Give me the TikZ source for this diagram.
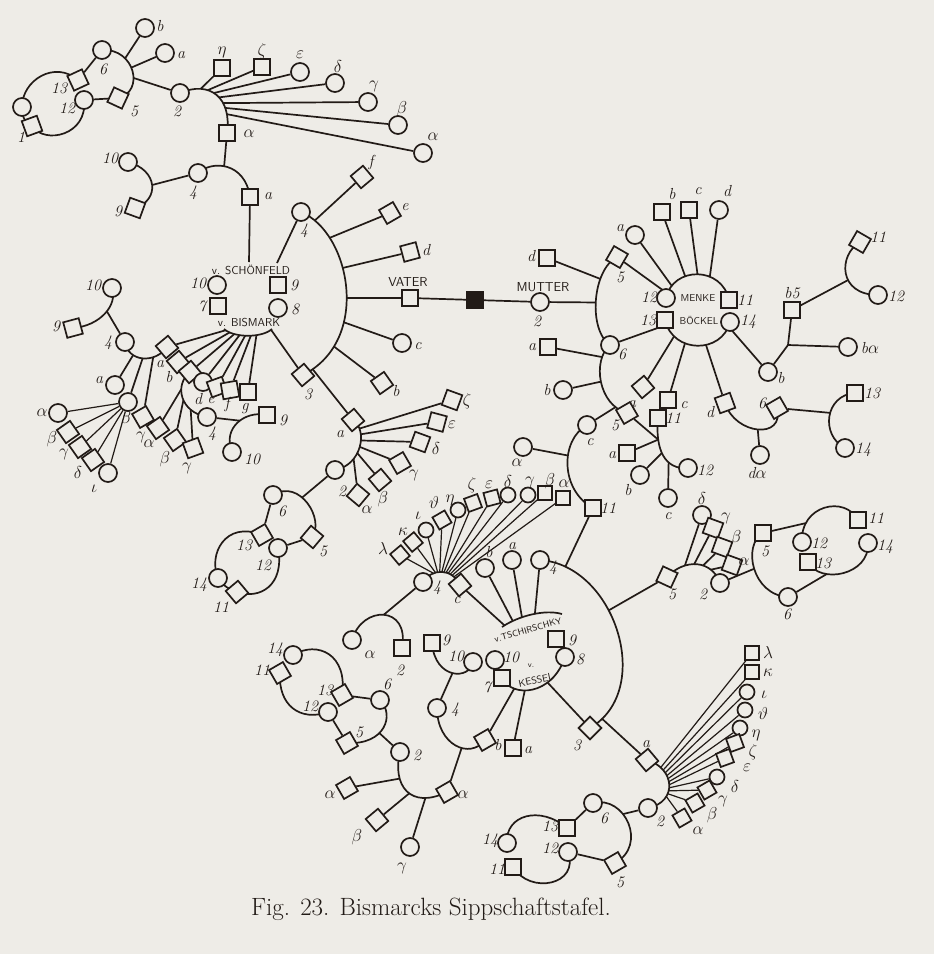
\documentclass[tikz,border=0pt]{standalone}
\usepackage{fontspec}
\definecolor{paper}{RGB}{238,236,231}
\definecolor{ink}{RGB}{34,27,23}
\pgfdeclarelayer{back}
\pgfdeclarelayer{arcs}
\pgfsetlayers{back,arcs,main}
\newcommand\lbf{\itshape\fontsize{16}{16}\selectfont}
\newcommand\nmf{\sffamily\fontsize{11.5}{12}\selectfont}
\tikzset{
  ln/.style={draw=ink,line width=1.7pt},
  fl/.style={draw=ink,line width=1.2pt},
  ci/.style={circle,draw=ink,line width=1.7pt,fill=paper,minimum size=18pt,inner sep=0pt},
  sq/.style={rectangle,draw=ink,line width=1.7pt,fill=paper,minimum size=16pt,inner sep=0pt},
  sci/.style={ci,minimum size=15pt},
  ssq/.style={sq,minimum size=14pt},
  bsq/.style={sq,fill=ink},
  lb/.style={font=\lbf,text=ink,inner sep=0pt},
  nm/.style={font=\nmf,text=ink,inner sep=0pt},
}
\begin{document}
\begin{tikzpicture}[x=1pt,y=-1pt]
\begin{pgfonlayer}{back}
\fill[paper] (0,0) rectangle (934,954);
\end{pgfonlayer}
\useasboundingbox (0,0) rectangle (934,954);

% ================= G1 top left =================
\node[ci] (g1c6) at (102,50) {};        \node[lb] (g1c6l) at (103,69) {6};
\node[ci] (g1cb) at (145,28) {};        \node[lb] (g1cbl) at (160,26) {b};
\node[ci] (g1ca) at (165,53) {};        \node[lb] (g1cal) at (181,55) {a};
\node[sq,rotate=-25] (g1s5) at (118,98) {};  \node[lb] (g1s5l) at (134,111) {5};
\node[sq,rotate=25] (g1s13) at (78,80) {};   \node[lb] (g1s13l) at (59,88) {13};
\node[ci] (g1c12) at (84,100) {};       \node[lb] (g1c12l) at (67,108) {12};
\node[ci] (g1c14) at (22,107) {};
\node[sq,rotate=20] (g1s11) at (32,126) {};  \node[lb] (g1s11l) at (21,137) {1};
\node[ci] (g1c2) at (180,93) {};        \node[lb] (g1c2l) at (177,111) {2};
\node[sq] (g1sh) at (222,68) {};        \node[lb] (g1shl) at (222,52) {$\eta$};
\node[sq] (g1sz) at (262,67) {};        \node[lb] (g1szl) at (262,51) {$\zeta$};
\node[ci] (g1ce) at (300,72) {};        \node[lb] (g1cel) at (300,55) {$\varepsilon$};
\node[ci] (g1cd) at (335,83) {};        \node[lb] (g1cdl) at (338,66) {$\delta$};
\node[ci] (g1cg) at (368,102) {};       \node[lb] (g1cgl) at (374,86) {$\gamma$};
\node[ci] (g1cbt) at (398,125) {};      \node[lb] (g1cbtl) at (402,109) {$\beta$};
\node[ci] (g1cal2) at (423,153) {};     \node[lb] (g1cal2l) at (433,137) {$\alpha$};
\node[sq] (g1sal) at (227,133) {};      \node[lb] (g1sall) at (249,134) {$\alpha$};
\node[ci] (g1c4) at (198,173) {};       \node[lb] (g1c4l) at (193,193) {4};
\node[sq] (g1sa) at (250,197) {};       \node[lb] (g1sal2) at (268,196) {a};
\node[ci] (g1c10) at (128,162) {};      \node[lb] (g1c10l) at (110,158) {10};
\node[sq,rotate=-20] (g1s9) at (135,208) {}; \node[lb] (g1s9l) at (118,211) {9};

% ================= G2 Schoenfeld / Bismark =================
\node[nm] (sft1) at (251,270) {v. SCHÖNFELD};
\node[ci] (sfc10) at (217,285) {};      \node[lb] (sfc10l) at (198,283) {10};
\node[sq] (sfs9) at (278,285) {};       \node[lb] (sfs9l) at (294,285) {9};
\node[sq] (sfs7) at (218,306) {};       \node[lb] (sfs7l) at (202,306) {7};
\node[ci] (sfc8) at (278,308) {};       \node[lb] (sfc8l) at (295,309) {8};
\node[nm] (sft2) at (249,323) {v. BISMARK};
\coordinate (g2top) at (249,262);
\coordinate (g2tr) at (277,263);

\node[sq,rotate=40] (g2sa) at (167,347) {};  \node[lb] (g2sal) at (160,364) {a};
\node[sq,rotate=40] (g2sb) at (178,362) {};  \node[lb] (g2sbl) at (169,377) {b};
\node[sq,rotate=40] (g2sc) at (190,372) {};
\node[ci] (g2cd) at (203,382) {};            \node[lb] (g2cdl) at (198,399) {d};
\node[sq,rotate=20] (g2se) at (217,387) {};  \node[lb] (g2sel) at (211,400) {e};
\node[sq,rotate=10] (g2sf) at (230,390) {};  \node[lb] (g2sfl) at (227,404) {f};
\node[sq] (g2sg) at (248,392) {};            \node[lb] (g2sgl) at (245,409) {g};

% left family
\node[ci] (lfc10) at (112,288) {};      \node[lb] (lfc10l) at (93,285) {10};
\node[sq,rotate=15] (lfs9) at (73,328) {}; \node[lb] (lfs9l) at (56,326) {9};
\node[ci] (lfc4) at (125,342) {};       \node[lb] (lfc4l) at (108,343) {4};
\node[ci] (lfca) at (115,385) {};       \node[lb] (lfcal) at (99,380) {a};
\node[ci] (lfcb) at (128,402) {};       \node[lb] (lfcbl) at (126,419) {$\beta$};
\node[sq,rotate=30] (lfsg) at (143,417) {}; \node[lb] (lfsgl) at (141,437) {$\gamma$};
\node[ci] (lfa) at (58,413) {};         \node[lb] (lfal) at (42,413) {$\alpha$};
\node[sq,rotate=35] (lfb) at (68,432) {};  \node[lb] (lfbl) at (52,439) {$\beta$};
\node[sq,rotate=35] (lfg) at (80,447) {};  \node[lb] (lfgl) at (64,454) {$\gamma$};
\node[sq,rotate=35] (lfd) at (93,460) {};  \node[lb] (lfdl) at (78,472) {$\delta$};
\node[ci] (lfi) at (108,473) {};        \node[lb] (lfil) at (94,489) {$\iota$};

% middle family (c of Bismark)
\node[ci] (mc4) at (207,417) {};        \node[lb] (mc4l) at (212,434) {4};
\node[sq,rotate=35] (msa) at (158,428) {}; \node[lb] (msal) at (149,444) {$\alpha$};
\node[sq,rotate=35] (msb) at (175,440) {}; \node[lb] (msbl) at (165,459) {$\beta$};
\node[sq,rotate=20] (msg) at (193,448) {}; \node[lb] (msgl) at (187,468) {$\gamma$};
\node[sq] (ms9) at (267,415) {};        \node[lb] (ms9l) at (283,420) {9};
\node[ci] (mc10) at (232,452) {};       \node[lb] (mc10l) at (252,459) {10};

% ================= G3 big arc (Vater side) =================
\node[ci] (g3c4) at (301,212) {};       \node[lb] (g3c4l) at (304,231) {4};
\node[sq,rotate=40] (g3s3) at (303,375) {}; \node[lb] (g3s3l) at (308,394) {3};
\node[sq,rotate=40] (g3sf) at (362,177) {}; \node[lb] (g3sfl) at (371,162) {f};
\node[sq,rotate=30] (g3se) at (390,213) {}; \node[lb] (g3sel) at (405,207) {e};
\node[sq,rotate=15] (g3sd) at (410,252) {}; \node[lb] (g3sdl) at (426,250) {d};
\node[sq] (g3sv) at (410,298) {};       \node[nm,font=\sffamily\fontsize{13}{13}\selectfont] (g3svl) at (408,282) {VATER};
\node[bsq] (g3bk) at (475,300) {};
\node[ci] (g3mu) at (540,302) {};       \node[nm,font=\sffamily\fontsize{13}{13}\selectfont] (g3mul) at (543,287) {MUTTER};
\node[lb] (g3mu2) at (537,321) {2};
\node[ci] (g3cc) at (402,343) {};       \node[lb] (g3ccl) at (418,346) {c};
\node[sq,rotate=35] (g3sb) at (382,383) {}; \node[lb] (g3sbl) at (396,391) {b};
\node[sq,rotate=40] (g3sa) at (353,420) {}; \node[lb] (g3sal) at (340,434) {a};

% ================= G4 =================
\node[ci] (g4c2) at (335,470) {};       \node[lb] (g4c2l) at (342,491) {2};
\node[sq,rotate=-20] (g4sz) at (452,400) {}; \node[lb] (g4szl) at (467,401) {$\zeta$};
\node[sq,rotate=-15] (g4se) at (437,422) {}; \node[lb] (g4sel) at (452,425) {$\varepsilon$};
\node[sq,rotate=-20] (g4sd) at (420,442) {}; \node[lb] (g4sdl) at (436,448) {$\delta$};
\node[sq,rotate=30] (g4sg) at (400,463) {};  \node[lb] (g4sgl) at (414,475) {$\gamma$};
\node[sq,rotate=40] (g4sb) at (380,480) {};  \node[lb] (g4sbl) at (383,499) {$\beta$};
\node[sq,rotate=50] (g4sa) at (358,495) {};  \node[lb] (g4sal) at (367,510) {$\alpha$};
\node[ci] (g4c6) at (273,495) {};       \node[lb] (g4c6l) at (282,511) {6};
\node[sq,rotate=-40] (g4s5) at (312,537) {}; \node[lb] (g4s5l) at (323,551) {5};
\node[sq,rotate=30] (g4s13) at (262,535) {}; \node[lb] (g4s13l) at (244,545) {13};
\node[ci] (g4c12) at (278,548) {};      \node[lb] (g4c12l) at (263,565) {12};
\node[ci] (g4c14) at (218,578) {};      \node[lb] (g4c14l) at (199,585) {14};
\node[sq,rotate=40] (g4s11) at (237,592) {}; \node[lb] (g4s11l) at (221,607) {11};

% ================= G5 fan of 4 =================
\node[ci] (g5c4) at (423,582) {};       \node[lb] (g5c4l) at (437,588) {4};
\node[sq,rotate=40] (g5sc) at (460,585) {}; \node[lb] (g5scl) at (457,600) {c};
\node[ssq,rotate=40] (g5sl) at (400,555) {}; \node[lb] (g5sll) at (383,548) {$\lambda$};
\node[ssq,rotate=40] (g5sk) at (413,542) {}; \node[lb] (g5skl) at (403,532) {$\kappa$};
\node[sci] (g5ci) at (426,530) {};      \node[lb] (g5cil) at (418,516) {$\iota$};
\node[ssq,rotate=30] (g5st) at (442,520) {}; \node[lb] (g5stl) at (434,502) {$\vartheta$};
\node[sci] (g5ch) at (458,510) {};      \node[lb] (g5chl) at (450,500) {$\eta$};
\node[ssq,rotate=20] (g5sz) at (473,503) {}; \node[lb] (g5szl) at (472,485) {$\zeta$};
\node[ssq,rotate=15] (g5se) at (492,498) {}; \node[lb] (g5sel) at (489,485) {$\varepsilon$};
\node[sci] (g5cd) at (508,495) {};      \node[lb] (g5cdl) at (508,481) {$\delta$};
\node[sci] (g5cg) at (528,495) {};      \node[lb] (g5cgl) at (530,482) {$\gamma$};
\node[ssq] (g5sb) at (545,493) {};      \node[lb] (g5sbl) at (550,481) {$\beta$};
\node[ssq] (g5sa) at (563,498) {};      \node[lb] (g5sal) at (564,484) {$\alpha$};
\node[ci] (g5ca) at (352,640) {};       \node[lb] (g5cal) at (370,655) {$\alpha$};
\node[sq] (g5s2) at (402,648) {};       \node[lb] (g5s2l) at (400,670) {2};

% ================= G6 Tschirschky / Kessel =================
\node[nm,rotate=16,font=\sffamily\fontsize{9}{9}\selectfont] (g6t1) at (528,630) {v.TSCHIRSCHKY};
\node[sq] (g6s9) at (556,639) {};       \node[lb] (g6s9l) at (572,640) {9};
\node[ci] (g6c10) at (495,660) {};      \node[lb] (g6c10l) at (511,657) {10};
\node[ci] (g6c8) at (565,657) {};       \node[lb] (g6c8l) at (580,659) {8};
\node[sq] (g6s7) at (502,678) {};       \node[lb] (g6s7l) at (487,687) {7};
\node[nm,font=\sffamily\fontsize{8}{8}\selectfont] (g6tv) at (531,666) {v.};
\node[nm,rotate=12,font=\sffamily\fontsize{10}{10}\selectfont] (g6t2) at (536,680) {KESSEL};
\node[sq,rotate=30] (g6sb) at (485,740) {}; \node[lb] (g6sbl) at (498,745) {b};
\node[sq] (g6sa) at (513,748) {};       \node[lb] (g6sal) at (528,750) {a};
\node[sq,rotate=45] (g6s3) at (590,728) {}; \node[lb] (g6s3l) at (577,745) {3};
\node[ci] (g6c4) at (540,560) {};       \node[lb] (g6c4l) at (553,568) {4};
\node[ci] (g6cb) at (485,568) {};       \node[lb] (g6cbl) at (489,552) {b};
\node[ci] (g6ca) at (512,560) {};       \node[lb] (g6cal) at (512,546) {a};
\node[sq] (g6s11) at (593,508) {};      \node[lb] (g6s11l) at (608,508) {11};

% ================= G7 lower left =================
\node[sq] (g7s9) at (432,643) {};       \node[lb] (g7s9l) at (446,640) {9};
\node[ci] (g7c10) at (473,662) {};      \node[lb] (g7c10l) at (456,656) {10};
\node[ci] (g7c4) at (437,708) {};       \node[lb] (g7c4l) at (455,710) {4};
\node[ci] (g7c2) at (400,752) {};       \node[lb] (g7c2l) at (417,755) {2};
\node[sq,rotate=30] (g7sal) at (447,792) {}; \node[lb] (g7sall) at (463,795) {$\alpha$};
\node[sq,rotate=30] (g7sa2) at (347,788) {}; \node[lb] (g7sa2l) at (330,795) {$\alpha$};
\node[sq,rotate=40] (g7sb) at (377,820) {}; \node[lb] (g7sbl) at (357,837) {$\beta$};
\node[ci] (g7cg) at (410,847) {};       \node[lb] (g7cgl) at (402,868) {$\gamma$};
\node[ci] (g7c6) at (380,700) {};       \node[lb] (g7c6l) at (387,684) {6};
\node[sq,rotate=30] (g7s5) at (347,743) {}; \node[lb] (g7s5l) at (359,732) {5};
\node[ci] (g7c14) at (293,655) {};      \node[lb] (g7c14l) at (275,650) {14};
\node[sq,rotate=30] (g7s11) at (280,673) {}; \node[lb] (g7s11l) at (262,670) {11};
\node[sq,rotate=30] (g7s13) at (342,695) {}; \node[lb] (g7s13l) at (325,690) {13};
\node[ci] (g7c12) at (328,712) {};      \node[lb] (g7c12l) at (310,706) {12};

% ================= G8 c-arc =================
\node[ci] (g8cc) at (587,425) {};       \node[lb] (g8ccl) at (590,442) {c};
\node[ci] (g8ca) at (523,447) {};       \node[lb] (g8cal) at (517,463) {$\alpha$};

% ================= G9 Menke / Boeckel =================
\node[nm,font=\sffamily\fontsize{10}{10}\selectfont] (g9t1) at (698,298) {MENKE};
\node[nm,font=\sffamily\fontsize{10}{10}\selectfont] (g9t2) at (699,321) {BÖCKEL};
\node[ci] (g9c12) at (666,298) {};      \node[lb] (g9c12l) at (649,297) {12};
\node[sq] (g9s11) at (729,300) {};      \node[lb] (g9s11l) at (745,300) {11};
\node[sq] (g9s13) at (665,320) {};      \node[lb] (g9s13l) at (648,320) {13};
\node[ci] (g9c14) at (730,322) {};      \node[lb] (g9c14l) at (748,322) {14};
\node[ci] (g9ca) at (635,235) {};       \node[lb] (g9cal) at (620,228) {a};
\node[sq] (g9sb) at (662,212) {};       \node[lb] (g9sbl) at (672,194) {b};
\node[sq] (g9sc) at (689,210) {};       \node[lb] (g9scl) at (698,191) {c};
\node[ci] (g9cd) at (719,210) {};       \node[lb] (g9cdl) at (727,191) {d};
\node[sq,rotate=-30] (g9s5) at (617,257) {}; \node[lb] (g9s5l) at (620,277) {5};
\node[ci] (g9c6) at (610,345) {};       \node[lb] (g9c6l) at (622,354) {6};
\node[sq,rotate=40] (g9sa) at (643,387) {}; \node[lb] (g9sal) at (632,404) {a};
\node[sq] (g9sc2) at (668,400) {};      \node[lb] (g9sc2l) at (684,405) {c};
\node[sq,rotate=20] (g9sd) at (725,403) {}; \node[lb] (g9sdl) at (710,412) {d};
\node[ci] (g9cb) at (768,372) {};       \node[lb] (g9cbl) at (781,378) {b};
\node[sq] (g9sd2) at (547,258) {};      \node[lb] (g9sd2l) at (531,256) {d};
\node[sq] (g9sa2) at (548,347) {};      \node[lb] (g9sa2l) at (532,347) {a};
\node[ci] (g9cb2) at (563,390) {};      \node[lb] (g9cb2l) at (547,390) {b};
\node[sq,rotate=30] (g9s5b) at (627,413) {}; \node[lb] (g9s5bl) at (615,425) {5};

% small family below Menke
\node[sq] (g10s11) at (658,418) {};     \node[lb] (g10s11l) at (673,418) {11};
\node[ci] (g10c12) at (688,468) {};     \node[lb] (g10c12l) at (705,470) {12};
\node[sq] (g10sa) at (627,453) {};      \node[lb] (g10sal) at (612,455) {a};
\node[ci] (g10cb) at (640,475) {};      \node[lb] (g10cbl) at (628,490) {b};
\node[ci] (g10cc) at (668,498) {};      \node[lb] (g10ccl) at (668,516) {c};

% ================= G11 right =================
\node[sq] (g11s5) at (792,310) {};      \node[lb] (g11s5l) at (792,293) {b5};
\coordinate (g11j) at (788,345);
\node[ci] (g11cba) at (848,347) {};     \node[lb] (g11cbal) at (870,348) {b$\alpha$};
\node[sq,rotate=-30] (g11s11) at (860,242) {}; \node[lb] (g11s11l) at (878,237) {11};
\node[ci] (g11c12) at (878,295) {};     \node[lb] (g11c12l) at (896,296) {12};

\node[sq,rotate=30] (g12s6) at (777,408) {}; \node[lb] (g12s6l) at (762,403) {6};
\node[ci] (g12cda) at (760,455) {};     \node[lb] (g12cdal) at (757,473) {d$\alpha$};
\node[sq] (g12s13) at (855,393) {};     \node[lb] (g12s13l) at (872,393) {13};
\node[ci] (g12c14) at (845,448) {};     \node[lb] (g12c14l) at (863,450) {14};

% ================= G13/G14 right middle =================
\node[sq,rotate=-25] (g13s5) at (667,577) {}; \node[lb] (g13s5l) at (672,594) {5};
\node[ci] (g13c2) at (720,583) {};      \node[lb] (g13c2l) at (703,594) {2};
\node[ci] (g13cd) at (702,515) {};      \node[lb] (g13cdl) at (702,498) {$\delta$};
\node[sq,rotate=-20] (g13sg) at (713,528) {}; \node[lb] (g13sgl) at (726,518) {$\gamma$};
\node[sq,rotate=-20] (g13sb) at (722,547) {}; \node[lb] (g13sbl) at (736,538) {$\beta$};
\node[sq,rotate=-20] (g13sa) at (732,565) {}; \node[lb] (g13sal) at (744,562) {$\alpha$};
\node[sq] (g14s5) at (763,533) {};      \node[lb] (g14s5l) at (765,551) {5};
\node[ci] (g14c6) at (788,597) {};      \node[lb] (g14c6l) at (787,614) {6};
\node[ci] (g14c12) at (802,542) {};     \node[lb] (g14c12l) at (819,543) {12};
\node[sq] (g14s11) at (858,520) {};     \node[lb] (g14s11l) at (876,518) {11};
\node[ci] (g14c14) at (868,543) {};     \node[lb] (g14c14l) at (885,547) {14};
\node[sq] (g14s13) at (808,562) {};     \node[lb] (g14s13l) at (823,563) {13};

% ================= G15 lower right =================
\node[sq,rotate=40] (g15sa) at (647,760) {}; \node[lb] (g15sal) at (646,744) {a};
\node[ci] (g15c2) at (648,808) {};      \node[lb] (g15c2l) at (660,821) {2};
\node[ssq] (g15sl) at (752,653) {};     \node[lb] (g15sll) at (768,652) {$\lambda$};
\node[ssq] (g15sk) at (752,672) {};     \node[lb] (g15skl) at (768,673) {$\kappa$};
\node[sci] (g15ci) at (747,692) {};     \node[lb] (g15cil) at (764,695) {$\iota$};
\node[sci] (g15ct) at (745,710) {};     \node[lb] (g15ctl) at (763,713) {$\vartheta$};
\node[sci] (g15ch) at (740,728) {};     \node[lb] (g15chl) at (756,735) {$\eta$};
\node[ssq,rotate=20] (g15sz) at (735,743) {}; \node[lb] (g15szl) at (753,752) {$\zeta$};
\node[ssq,rotate=20] (g15se) at (725,758) {}; \node[lb] (g15sel) at (747,768) {$\varepsilon$};
\node[sci] (g15cd) at (717,777) {};     \node[lb] (g15cdl) at (735,786) {$\delta$};
\node[ssq,rotate=30] (g15sg) at (707,790) {}; \node[lb] (g15sgl) at (723,801) {$\gamma$};
\node[ssq,rotate=30] (g15sb) at (695,803) {}; \node[lb] (g15sbl) at (712,815) {$\beta$};
\node[ssq,rotate=30] (g15sa2) at (682,818) {}; \node[lb] (g15sa2l) at (698,831) {$\alpha$};
\node[ci] (g15c6) at (593,803) {};      \node[lb] (g15c6l) at (604,818) {6};
\node[sq,rotate=30] (g15s5) at (615,863) {}; \node[lb] (g15s5l) at (620,882) {5};
\node[sq] (g15s13) at (567,828) {};     \node[lb] (g15s13l) at (550,826) {13};
\node[ci] (g15c12) at (568,852) {};     \node[lb] (g15c12l) at (550,848) {12};
\node[ci] (g15c14) at (507,843) {};     \node[lb] (g15c14l) at (490,841) {14};
\node[sq] (g15s11) at (513,867) {};     \node[lb] (g15s11l) at (497,869) {11};

\node[text=ink,font=\fontsize{25}{25}\selectfont,inner sep=0pt] (cap) at (431,909) {Fig. 23. Bismarcks Sippschaftstafel.};

% ================= lines and arcs =================
\begin{pgfonlayer}{arcs}
% G1
\draw[ln] (g1c6.center) .. controls (135,48) and (145,92) .. coordinate[pos=0.3] (g1k1) coordinate[pos=0.45] (g1k2) coordinate[pos=0.6] (g1k3) (g1s5.center);
\draw[ln] (g1k1) -- (g1cb);
\draw[ln] (g1k2) -- (g1ca);
\draw[ln] (g1k3) -- (g1c2);
\draw[ln] (g1c6) -- (g1s13);
\draw[ln] (g1c12) -- (g1s5);
\draw[ln] (g1s13.center) .. controls (55,60) and (22,80) .. (g1c14.center) .. controls (22,118) and (26,124) .. (g1s11.center) .. controls (45,145) and (88,135) .. (g1c12.center);
\draw[ln] (g1c2.center) .. controls (210,80) and (232,98) .. coordinate[pos=.25] (g1m1) coordinate[pos=.35] (g1m2) coordinate[pos=.45] (g1m3) coordinate[pos=.55] (g1m4) coordinate[pos=.65] (g1m5) coordinate[pos=.72] (g1m6) coordinate[pos=.8] (g1m7) (g1sal.center);
\draw[ln] (g1m1) -- (g1sh);
\draw[ln] (g1m2) -- (g1sz);
\draw[ln] (g1m3) -- (g1ce);
\draw[ln] (g1m4) -- (g1cd);
\draw[ln] (g1m5) -- (g1cg);
\draw[ln] (g1m6) -- (g1cbt);
\draw[ln] (g1m7) -- (g1cal2);
\draw[ln] (g1c4.center) .. controls (212,160) and (245,162) .. coordinate[pos=.45] (g1n1) (g1sa.center);
\draw[ln] (g1n1) -- (g1sal);
\draw[ln] (g1c10.center) .. controls (158,170) and (160,200) .. coordinate[pos=.5] (g1n2) (g1s9.center);
\draw[ln] (g1n2) -- (g1c4);
\draw[ln] (g1sa) -- (g2top);
\draw[ln] (g3c4) -- (g2tr);
% G2
\draw[ln] (224,329) .. controls (234,338) and (262,338) .. coordinate[pos=.05] (g2b1) coordinate[pos=.15] (g2b2) coordinate[pos=.25] (g2b3) coordinate[pos=.35] (g2b4) coordinate[pos=.45] (g2b5) coordinate[pos=.55] (g2b6) coordinate[pos=.65] (g2b7) coordinate[pos=.97] (g2b8) (272,329);
\draw[ln] (g2b1) -- (g2sa);
\draw[ln] (g2b2) -- (g2sb);
\draw[ln] (g2b3) -- (g2sc);
\draw[ln] (g2b4) -- (g2cd);
\draw[ln] (g2b5) -- (g2se);
\draw[ln] (g2b6) -- (g2sf);
\draw[ln] (g2b7) -- (g2sg);
\draw[ln] (g2b8) -- (g3s3);
\draw[ln] (lfc10.center) .. controls (118,305) and (100,326) .. coordinate[pos=.45] (lfk1) (lfs9.center);
\draw[ln] (lfk1) -- (lfc4);
\draw[ln] (lfc4.center) .. controls (128,362) and (155,364) .. coordinate[pos=.3] (lfk2) coordinate[pos=.5] (lfk3) coordinate[pos=.7] (lfk4) (g2sa.center);
\draw[ln] (lfk2) -- (lfca);
\draw[ln] (lfk3) -- (lfcb);
\draw[ln] (lfk4) -- (lfsg);
\draw[fl] (lfcb) -- (lfa);
\draw[fl] (lfcb) -- (lfb);
\draw[fl] (lfcb) -- (lfg);
\draw[fl] (lfcb) -- (lfd);
\draw[fl] (lfcb) -- (lfi);
\draw[ln] (g2sc.center) .. controls (174,385) and (180,412) .. coordinate[pos=.35] (mk1) coordinate[pos=.55] (mk2) coordinate[pos=.75] (mk3) (mc4.center);
\draw[ln] (mk1) -- (msa);
\draw[ln] (mk2) -- (msb);
\draw[ln] (mk3) -- (msg);
\draw[ln] (ms9.center) .. controls (245,410) and (222,428) .. coordinate[pos=.45] (mk4) (mc10.center);
\draw[ln] (mk4) -- (mc4);
% G3
\draw[ln] (g3c4.center) .. controls (350,232) and (372,340) .. coordinate[pos=.1] (g3k1) coordinate[pos=.23] (g3k2) coordinate[pos=.4] (g3k3) coordinate[pos=.55] (g3k4) coordinate[pos=.67] (g3k5) coordinate[pos=.8] (g3k6) coordinate[pos=.95] (g3k7) (g3s3.center);
\draw[ln] (g3k1) -- (g3sf);
\draw[ln] (g3k2) -- (g3se);
\draw[ln] (g3k3) -- (g3sd);
\draw[ln] (g3k4) -- (g3sv);
\draw[ln] (g3sv) -- (g3bk);
\draw[ln] (g3bk) -- (g3mu);
\draw[ln] (g3k5) -- (g3cc);
\draw[ln] (g3k6) -- (g3sb);
\draw[ln] (g3k7) -- (g3sa);
% G4
\draw[ln] (g3sa.center) .. controls (368,430) and (362,465) .. coordinate[pos=.2] (g4k1) coordinate[pos=.3] (g4k2) coordinate[pos=.4] (g4k3) coordinate[pos=.5] (g4k4) coordinate[pos=.6] (g4k5) coordinate[pos=.7] (g4k6) (g4c2.center);
\draw[ln] (g4k1) -- (g4sz);
\draw[ln] (g4k2) -- (g4se);
\draw[ln] (g4k3) -- (g4sd);
\draw[ln] (g4k4) -- (g4sg);
\draw[ln] (g4k5) -- (g4sb);
\draw[ln] (g4k6) -- (g4sa);
\draw[ln] (g4c6.center) .. controls (300,478) and (325,520) .. coordinate[pos=.4] (g4k7) (g4s5.center);
\draw[ln] (g4k7) -- (g4c2);
\draw[ln] (g4c6) -- (g4s13);
\draw[ln] (g4c12) -- (g4s5);
\draw[ln] (g4s13.center) .. controls (225,520) and (208,555) .. (g4c14.center) .. controls (222,585) and (230,590) .. (g4s11.center) .. controls (260,600) and (285,585) .. (g4c12.center);
% G5
\draw[ln] (g5c4.center) .. controls (432,568) and (452,568) .. coordinate[pos=.3] (g5f1) coordinate[pos=.35] (g5f2) coordinate[pos=.4] (g5f3) coordinate[pos=.45] (g5f4) coordinate[pos=.5] (g5f5) coordinate[pos=.55] (g5f6) coordinate[pos=.6] (g5f7) coordinate[pos=.65] (g5f8) coordinate[pos=.7] (g5f9) coordinate[pos=.75] (g5f10) coordinate[pos=.8] (g5f11) (g5sc.center);
\draw[fl] (g5f1) -- (g5sl);
\draw[fl] (g5f2) -- (g5sk);
\draw[fl] (g5f3) -- (g5ci);
\draw[fl] (g5f4) -- (g5st);
\draw[fl] (g5f5) -- (g5ch);
\draw[fl] (g5f6) -- (g5sz);
\draw[fl] (g5f7) -- (g5se);
\draw[fl] (g5f8) -- (g5cd);
\draw[fl] (g5f9) -- (g5cg);
\draw[fl] (g5f10) -- (g5sb);
\draw[fl] (g5f11) -- (g5sa);
\draw[ln] (g5ca.center) .. controls (362,605) and (410,605) .. coordinate[pos=.5] (g5k1) (g5s2.center);
\draw[ln] (g5k1) -- (g5c4);
% G6
\draw[ln] (502,627) .. controls (518,616) and (545,609) .. coordinate[pos=.05] (g6t0) coordinate[pos=.2] (g6ta) coordinate[pos=.35] (g6tb) coordinate[pos=.55] (g6tc) (562,614);
\draw[ln] (g5sc) -- (g6t0);
\draw[ln] (g6cb) -- (g6ta);
\draw[ln] (g6ca) -- (g6tb);
\draw[ln] (g6c4) -- (g6tc);
\draw[ln] (g6s7.center) .. controls (512,698) and (552,696) .. coordinate[pos=.25] (g6k1) coordinate[pos=.4] (g6k2) coordinate[pos=.7] (g6k3) (g6c8.center);
\draw[ln] (g6k1) -- (g6sb);
\draw[ln] (g6k2) -- (g6sa);
\draw[ln] (g6k3) -- (g6s3);
\draw[ln] (g6c4.center) .. controls (615,565) and (655,690) .. coordinate[pos=.12] (g6k4) coordinate[pos=.4] (g6k5) coordinate[pos=.93] (g6k6) (g6s3.center);
\draw[ln] (g6k4) -- (g6s11);
\draw[ln] (g6k5) -- (g13s5);
\draw[ln] (g6k6) -- (g15sa);
% G7
\draw[ln] (g7s9.center) .. controls (435,680) and (470,680) .. coordinate[pos=.5] (g7k1) (g7c10.center);
\draw[ln] (g7k1) -- (g7c4);
\draw[ln] (g7c4.center) .. controls (437,745) and (470,760) .. coordinate[pos=.6] (g7k2) (g6sb.center);
\draw[ln] (g7k2) -- (g7sal);
\draw[ln] (g7c2.center) .. controls (392,785) and (410,810) .. coordinate[pos=.3] (g7k3) coordinate[pos=.55] (g7k4) coordinate[pos=.78] (g7k5) (g7sal.center);
\draw[ln] (g7k3) -- (g7sa2);
\draw[ln] (g7k4) -- (g7sb);
\draw[ln] (g7k5) -- (g7cg);
\draw[ln] (g7c6.center) .. controls (395,715) and (385,745) .. coordinate[pos=.6] (g7k6) (g7s5.center);
\draw[ln] (g7k6) -- (g7c2);
\draw[ln] (g7c6) -- (g7s13);
\draw[ln] (g7c12) -- (g7s5);
\draw[ln] (g7s13.center) .. controls (348,655) and (318,640) .. (g7c14.center);
\draw[ln] (g7s11.center) .. controls (278,705) and (300,722) .. (g7c12.center);
% G8
\draw[ln] (g8cc.center) .. controls (560,440) and (560,490) .. coordinate[pos=.4] (g8k1) (g6s11.center);
\draw[ln] (g8k1) -- (g8ca);
% G9
\draw[ln] (g9c12.center) .. controls (673,266) and (722,266) .. coordinate[pos=.05] (g9u0) coordinate[pos=.15] (g9u1) coordinate[pos=.35] (g9u2) coordinate[pos=.5] (g9u3) coordinate[pos=.65] (g9u4) (g9s11.center);
\draw[ln] (g9s13.center) .. controls (673,354) and (722,354) .. coordinate[pos=.05] (g9d0) coordinate[pos=.2] (g9d1) coordinate[pos=.35] (g9d2) coordinate[pos=.6] (g9d3) coordinate[pos=.95] (g9d4) (g9c14.center);
\draw[ln] (g9u0) -- (g9s5);
\draw[ln] (g9u1) -- (g9ca);
\draw[ln] (g9u2) -- (g9sb);
\draw[ln] (g9u3) -- (g9sc);
\draw[ln] (g9u4) -- (g9cd);
\draw[ln] (g9d0) -- (g9c6);
\draw[ln] (g9d1) -- (g9sa);
\draw[ln] (g9d2) -- (g9sc2);
\draw[ln] (g9d3) -- (g9sd);
\draw[ln] (g9d4) -- (g9cb);
\draw[ln] (g9s5.center) .. controls (592,270) and (588,330) .. coordinate[pos=.3] (g9k1) coordinate[pos=.52] (g9k2) (g9c6.center);
\draw[ln] (g9k1) -- (g9sd2);
\draw[ln] (g9k2) -- (g3mu);
\draw[ln] (g9c6.center) .. controls (592,360) and (598,405) .. coordinate[pos=.2] (g9k3) coordinate[pos=.5] (g9k4) coordinate[pos=.85] (g9k5) (g9s5b.center);
\draw[ln] (g9k3) -- (g9sa2);
\draw[ln] (g9k4) -- (g9cb2);
\draw[ln] (g9k5) -- (g8cc);
% G10
\draw[ln] (g10s11.center) .. controls (655,450) and (665,470) .. coordinate[pos=.25] (g10k1) coordinate[pos=.45] (g10k2) coordinate[pos=.65] (g10k3) (g10c12.center);
\draw[ln] (g10k1) -- (g10sa);
\draw[ln] (g10k2) -- (g10cb);
\draw[ln] (g10k3) -- (g10cc);
\draw[ln] (g9s5b) -- (g10k1);
% G11
\draw[ln] (g9cb) -- (g11j);
\draw[ln] (g11j) -- (g11s5);
\draw[ln] (g11j) -- (g11cba);
\draw[ln] (g11s11.center) .. controls (838,255) and (838,295) .. coordinate[pos=.6] (g11k1) (g11c12.center);
\draw[ln] (g11k1) -- (g11s5);
% G12
\draw[ln] (g9sd.center) .. controls (735,435) and (785,440) .. coordinate[pos=.5] (g12k1) (g12s6.center);
\draw[ln] (g12k1) -- (g12cda);
\draw[ln] (g12s13.center) .. controls (825,395) and (820,435) .. coordinate[pos=.45] (g12k2) (g12c14.center);
\draw[ln] (g12k2) -- (g12s6);
% G13 / G14
\draw[ln] (g13s5.center) .. controls (685,558) and (712,560) .. coordinate[pos=.3] (g13k1) coordinate[pos=.45] (g13k2) coordinate[pos=.6] (g13k3) coordinate[pos=.75] (g13k4) (g13c2.center);
\draw[ln] (g13k1) -- (g13cd);
\draw[ln] (g13k2) -- (g13sg);
\draw[ln] (g13k3) -- (g13sb);
\draw[ln] (g13k4) -- (g13sa);
\draw[ln] (g14s5.center) .. controls (742,545) and (752,595) .. coordinate[pos=.5] (g14k1) (g14c6.center);
\draw[ln] (g13c2) -- (g14k1);
\draw[ln] (g14c12.center) .. controls (800,505) and (845,495) .. coordinate[pos=.2] (g14k2) (g14s11.center);
\draw[ln] (g14k2) -- (g14s5);
\draw[ln] (g14c14.center) .. controls (870,575) and (820,585) .. coordinate[pos=.7] (g14k3) (g14s13.center);
\draw[ln] (g14k3) -- (g14c6);
% G15
\draw[ln] (g15sa.center) .. controls (675,768) and (678,802) .. coordinate[pos=.2] (g15f1) coordinate[pos=.25] (g15f2) coordinate[pos=.3] (g15f3) coordinate[pos=.35] (g15f4) coordinate[pos=.4] (g15f5) coordinate[pos=.45] (g15f6) coordinate[pos=.5] (g15f7) coordinate[pos=.55] (g15f8) coordinate[pos=.6] (g15f9) coordinate[pos=.65] (g15f10) coordinate[pos=.7] (g15f11) (g15c2.center);
\draw[fl] (g15f1) -- (g15sl);
\draw[fl] (g15f2) -- (g15sk);
\draw[fl] (g15f3) -- (g15ci);
\draw[fl] (g15f4) -- (g15ct);
\draw[fl] (g15f5) -- (g15ch);
\draw[fl] (g15f6) -- (g15sz);
\draw[fl] (g15f7) -- (g15se);
\draw[fl] (g15f8) -- (g15cd);
\draw[fl] (g15f9) -- (g15sg);
\draw[fl] (g15f10) -- (g15sb);
\draw[fl] (g15f11) -- (g15sa2);
\draw[ln] (g15c6.center) .. controls (625,795) and (648,845) .. coordinate[pos=.38] (g15k1) (g15s5.center);
\draw[ln] (g15k1) -- (g15c2);
\draw[ln] (g15c6) -- (g15s13);
\draw[ln] (g15c12) -- (g15s5);
\draw[ln] (g15s13.center) .. controls (540,805) and (505,815) .. (g15c14.center);
\draw[ln] (g15s11.center) .. controls (530,895) and (580,885) .. (g15c12.center);
\end{pgfonlayer}
\end{tikzpicture}
\end{document}
